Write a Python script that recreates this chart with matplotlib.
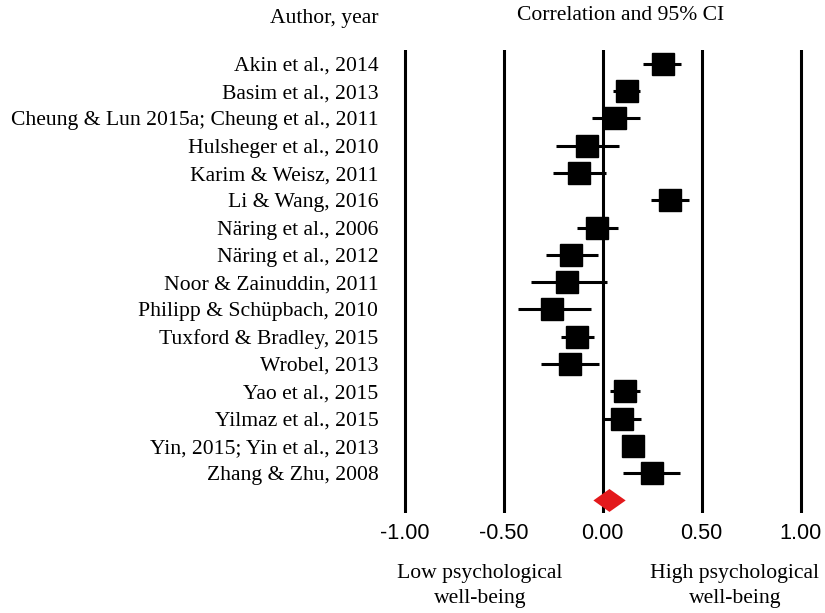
import matplotlib
matplotlib.use('Agg')
import matplotlib.pyplot as plt
from matplotlib.patches import Polygon

studies = ["Akin et al., 2014", "Basim et al., 2013",
           "Cheung & Lun 2015a; Cheung et al., 2011", "Hulsheger et al., 2010",
           "Karim & Weisz, 2011", "Li & Wang, 2016", "Näring et al., 2006",
           "Näring et al., 2012", "Noor & Zainuddin, 2011",
           "Philipp & Schüpbach, 2010", "Tuxford & Bradley, 2015",
           "Wrobel, 2013", "Yao et al., 2015", "Yilmaz et al., 2015",
           "Yin, 2015; Yin et al., 2013", "Zhang & Zhu, 2008"]
r = [0.303, 0.121, 0.062, -0.078, -0.118, 0.342, -0.027, -0.158,
     -0.179, -0.254, -0.128, -0.167, 0.111, 0.096, 0.152, 0.249]
ci_low = [0.205, 0.050, -0.054, -0.236, -0.249, 0.242, -0.130, -0.286,
          -0.360, -0.428, -0.210, -0.312, 0.037, 0.003, 0.120, 0.101]
ci_high = [0.394, 0.190, 0.188, 0.084, 0.018, 0.437, 0.076, -0.025,
           0.020, -0.061, -0.044, -0.017, 0.187, 0.192, 0.180, 0.390]
pooled = [-0.047, 0.034, 0.116]  # lower, estimate, upper
xticks = [-1.0, -0.5, 0.0, 0.5, 1.0]
xlabels = ["-1.00", "-0.50", "0.00", "0.50", "1.00"]

serif = "Liberation Serif"
sans = "Liberation Sans"
fs = 15.6

W, H = 825, 613
fig = plt.figure(figsize=(W / 100, H / 100), dpi=100)
ax = fig.add_axes([395 / W, 1 - 513 / H, (811 - 395) / W, (513 - 50) / H])

for xv in xticks:
    ax.axvline(xv, color='black', linewidth=2.2, zorder=1)

rows = list(range(len(studies)))
ax.hlines(rows, ci_low, ci_high, color='black', linewidth=2.2, zorder=3)
ax.plot(r, rows, 's', color='black', markersize=15.5, zorder=4)

yd = len(studies)
diamond = Polygon([[pooled[0], yd], [pooled[1], yd - 0.42],
                   [pooled[2], yd], [pooled[1], yd + 0.42]],
                  closed=True, facecolor='#e3191c', edgecolor='none', zorder=5)
ax.add_patch(diamond)

ax.set_xlim(-1.049, 1.052)
ax.set_ylim(16.46, -0.51)
ax.set_xticks(xticks)
ax.set_xticklabels(xlabels, fontsize=15.6, family=sans)
ax.set_yticks(rows)
ax.set_yticklabels(studies, fontsize=fs, family=serif)
ax.tick_params(axis='x', length=0, pad=7)
ax.tick_params(axis='y', length=0, pad=12)
for s in ax.spines.values():
    s.set_visible(False)

fig.text(378 / W, 1 - 18 / H, "Author, year", ha='right', va='center',
         fontsize=fs, family=serif)
fig.text(621 / W, 1 - 16 / H, "Correlation and 95% CI", ha='center',
         va='center', fontsize=fs, family=serif)
fig.text(480 / W, 1 - 586 / H, "Low psychological\nwell-being", ha='center',
         va='center', fontsize=fs, family=serif, linespacing=1.45)
fig.text(735 / W, 1 - 586 / H, "High psychological\nwell-being", ha='center',
         va='center', fontsize=fs, family=serif, linespacing=1.45)

fig.savefig("out.png", dpi=100)
